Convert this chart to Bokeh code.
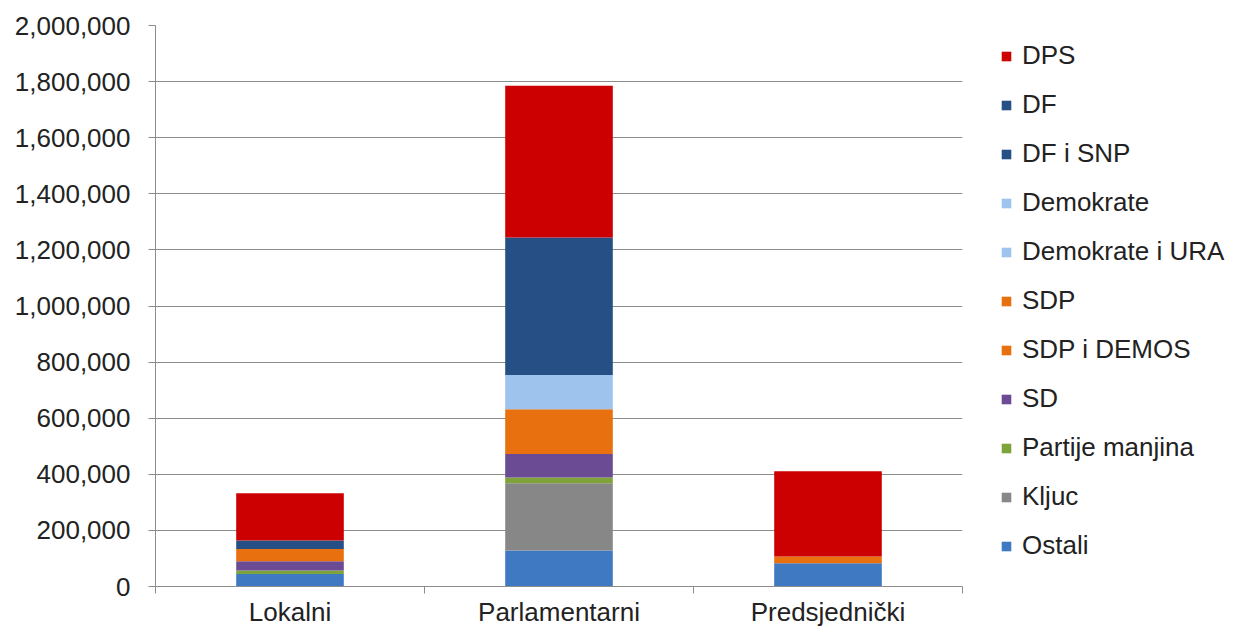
from bokeh.plotting import figure
from bokeh.models import Range1d, FixedTicker, NumeralTickFormatter, Legend, LegendItem, ColumnDataSource
from bokeh.embed import file_html
from bokeh.resources import INLINE

categories = ["Lokalni", "Parlamentarni", "Predsjednički"]

# series, bottom to top
series_names = ["Ostali", "Kljuc", "Partije manjina", "SD", "SDP i DEMOS", "SDP",
                "Demokrate i URA", "Demokrate", "DF i SNP", "DF", "DPS"]
ostali = [45000, 128000, 83000]
kljuc = [0, 240000, 0]
partije_manjina = [12000, 21000, 0]
sd = [33000, 83000, 0]
sdp_i_demos = [0, 160000, 0]
sdp = [44000, 0, 24000]
demokrate_i_ura = [0, 122000, 0]
demokrate = [0, 0, 0]
df_i_snp = [0, 490000, 0]
df = [30000, 0, 0]
dps = [168000, 541000, 304000]

series_values = [ostali, kljuc, partije_manjina, sd, sdp_i_demos, sdp,
                 demokrate_i_ura, demokrate, df_i_snp, df, dps]
colors = ["#3E79C2", "#878787", "#7DA33A", "#6B4B94", "#E8700E", "#E8700E",
          "#9EC4EE", "#9EC4EE", "#254F85", "#254F85", "#CC0000"]

y_ticks = [0, 200000, 400000, 600000, 800000, 1000000, 1200000, 1400000, 1600000, 1800000, 2000000]

xs = [i + 0.5 for i in range(len(categories))]
data = {"x": xs}
for name, vals in zip(series_names, series_values):
    data[name] = vals
source = ColumnDataSource(data)

FONT = "Liberation Sans"
TXT = "#222222"
GRID = "#8C8C8C"

p = figure(frame_width=807, frame_height=561, output_backend="svg", toolbar_location=None,
           x_range=Range1d(0, len(categories)), y_range=Range1d(0, 2000000),
           min_border_left=155, min_border_top=25, min_border_bottom=43, min_border_right=0)
p.outline_line_color = None

renderers = p.vbar_stack(series_names, x="x", width=0.4, source=source,
                         color=colors, line_color=None)

p.xgrid.visible = False
p.ygrid.grid_line_color = GRID
p.ygrid.grid_line_width = 1
p.ygrid.ticker = FixedTicker(ticks=y_ticks)

p.yaxis.ticker = FixedTicker(ticks=y_ticks)
p.yaxis.formatter = NumeralTickFormatter(format="0,0")
p.yaxis.axis_line_color = GRID
p.yaxis.major_tick_line_color = GRID
p.yaxis.major_tick_out = 7
p.yaxis.major_tick_in = 0
p.yaxis.minor_tick_line_color = None
p.yaxis.major_label_text_font = FONT
p.yaxis.major_label_text_font_size = "26px"
p.yaxis.major_label_text_color = TXT
p.yaxis.major_label_standoff = 18

p.xaxis.ticker = FixedTicker(ticks=xs, minor_ticks=list(range(len(categories) + 1)))
p.xaxis.major_label_overrides = {x: c for x, c in zip(xs, categories)}
p.xaxis.axis_line_color = GRID
p.xaxis.major_tick_line_color = None
p.xaxis.major_tick_out = 0
p.xaxis.minor_tick_line_color = GRID
p.xaxis.minor_tick_out = 7
p.xaxis.minor_tick_in = 0
p.xaxis.major_label_text_font = FONT
p.xaxis.major_label_text_font_size = "26px"
p.xaxis.major_label_text_color = TXT
p.xaxis.major_label_standoff = 3

items = [LegendItem(label=n, renderers=[r]) for n, r in zip(series_names, renderers)][::-1]
legend = Legend(items=items, location=(38, 25), orientation="vertical",
                label_text_font=FONT, label_text_font_size="26px", label_text_color=TXT,
                glyph_width=12, glyph_height=12, label_height=22, label_standoff=10,
                spacing=18, padding=5, margin=0, border_line_color=None,
                background_fill_alpha=0)
p.add_layout(legend, "right")

open("out.html", "w").write(file_html(p, INLINE))
